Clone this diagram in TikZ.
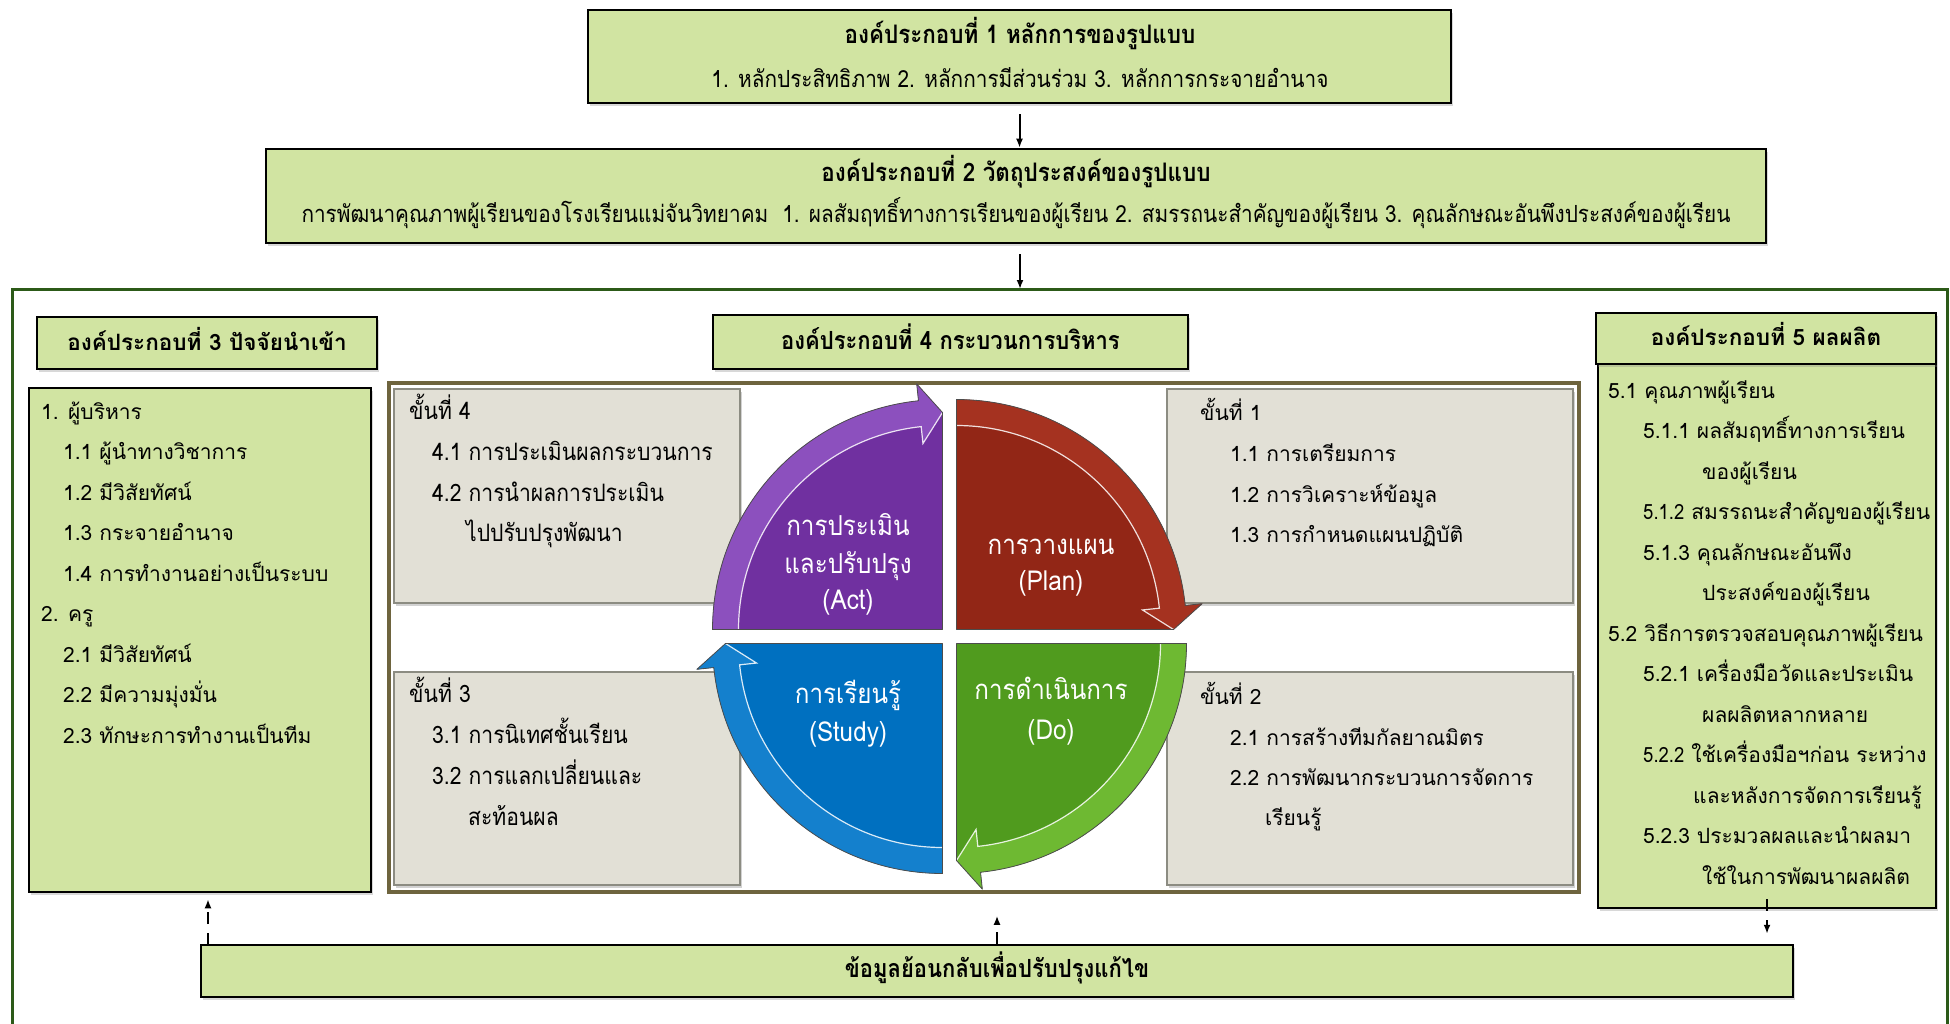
\documentclass[tikz,border=0pt]{standalone}
\usepackage{fontspec}
\newfontfamily\thai[Script=Thai]{Loma}
\newfontfamily\thaic[Script=Thai,FakeStretch=0.88]{Loma}
\usetikzlibrary{shadows,arrows.meta}
\definecolor{boxgreen}{RGB}{209,228,162}
\definecolor{stepgray}{RGB}{226,224,214}
\definecolor{stepline}{RGB}{140,140,130}
\definecolor{frameolive}{RGB}{110,100,62}
\definecolor{framegreen}{RGB}{44,90,24}
\definecolor{actc}{RGB}{112,48,160}
\definecolor{actb}{RGB}{140,80,190}
\definecolor{planc}{RGB}{146,38,22}
\definecolor{planb}{RGB}{165,50,32}
\definecolor{doc}{RGB}{80,155,30}
\definecolor{dob}{RGB}{110,185,50}
\definecolor{studyc}{RGB}{0,112,192}
\definecolor{studyb}{RGB}{20,128,205}
\newcommand\pdcaquad[5]{%
  \begin{scope}[shift={(#1,#2)}]
    \pgfmathsetmacro\qEnd{#3-90}
    \pgfmathsetmacro\qBase{#3-84}
    \path[fill=#4] (0,0) -- (#3:230) arc[start angle=#3, end angle=\qBase, radius=230]
      -- (\qBase:247) -- (\qEnd:217) -- cycle;
    \path[fill=#5] (#3:204) -- (#3:230) arc[start angle=#3, end angle=\qBase, radius=230]
      -- (\qBase:247) -- (\qEnd:217) -- (\qBase:187) -- (\qBase:204)
      arc[start angle=\qBase, end angle=#3, radius=204] -- cycle;
    \draw[white, opacity=.85, line width=1.2pt] (#3:204) arc[start angle=#3, end angle=\qBase, radius=204]
      -- (\qBase:187) -- (\qEnd:217);
    \draw[gray!60!black, line width=0.8pt, line join=round] (0,0) -- (#3:230) arc[start angle=#3, end angle=\qBase, radius=230]
      -- (\qBase:247) -- (\qEnd:217) -- cycle;
  \end{scope}}
\begin{document}
\begin{tikzpicture}[x=1pt,y=-1pt,
  greenbox/.style={draw=black, line width=2.5pt, fill=boxgreen, inner sep=0pt,
    drop shadow={shadow xshift=2pt,shadow yshift=-3pt,opacity=.3}},
  stepbox/.style={draw=stepline, line width=1.5pt, fill=stepgray, inner sep=0pt,
    drop shadow={shadow xshift=2pt,shadow yshift=-3pt,opacity=.35}},
  ln/.style={inner sep=0pt, text depth=0pt},
  lb/.style={ln, anchor=west, font=\thai\fontsize{21}{24}\selectfont, text height=14pt},
  lc/.style={ln, anchor=west, font=\thaic\fontsize{24}{28}\selectfont, text height=16pt},
  hdb/.style={ln, font=\thai\bfseries\fontsize{22.5}{26}\selectfont, text height=15pt},
  hdc/.style={ln, font=\thaic\bfseries\fontsize{25.5}{30}\selectfont, text height=17pt},
  hdd/.style={ln, font=\thaic\bfseries\fontsize{25}{30}\selectfont, text height=17pt},
  subc/.style={ln, font=\thaic\fontsize{23.6}{28}\selectfont, text height=16pt},
  pdl/.style={ln, text=white, font=\thaic\fontsize{27.5}{32}\selectfont, text height=18pt},
  arr/.style={line width=2pt, -{Latex[length=9pt,width=7pt]}},
  dasharr/.style={line width=2pt, dash pattern=on 12pt off 9pt, -{Latex[length=9pt,width=7pt]}}
]
\useasboundingbox[fill=white] (0,0) rectangle (1950,1024);

% outer frame (open at the bottom)
\draw[framegreen, line width=3pt] (12,1030) -- (12,289) -- (1947,289) -- (1947,1030);
\coordinate (frametop) at (1020,289);

% component 1 and 2
\node[greenbox, minimum width=863pt, minimum height=93pt] (box1) at (1019.5,56.5) {};
\node[hdc] (box1t) at (1020,35) {องค์ประกอบที่ 1 หลักการของรูปแบบ};
\node[subc] (box1s) at (1020,80) {1. หลักประสิทธิภาพ 2. หลักการมีส่วนร่วม 3. หลักการกระจายอำนาจ};

\node[greenbox, minimum width=1500pt, minimum height=94pt] (box2) at (1016,196) {};
\node[hdc] (box2t) at (1016,173) {องค์ประกอบที่ 2 วัตถุประสงค์ของรูปแบบ};
\node[subc] (box2s) at (1016,215) {การพัฒนาคุณภาพผู้เรียนของโรงเรียนแม่จันวิทยาคม~~1. ผลสัมฤทธิ์ทางการเรียนของผู้เรียน 2. สมรรถนะสำคัญของผู้เรียน 3. คุณลักษณะอันพึงประสงค์ของผู้เรียน};

\draw[arr] ([yshift=-10pt]box1.south) -- (box1.south |- box2.north);
\draw[arr] ([yshift=-10pt]box2.south -| frametop) -- (frametop);

% component 3
\node[greenbox, minimum width=340pt, minimum height=52pt] (c3head) at (207,343) {};
\node[hdb] (c3headt) at (207,343) {องค์ประกอบที่ 3 ปัจจัยนำเข้า};
\node[greenbox, minimum width=342pt, minimum height=504pt] (c3body) at (200,640) {};
\foreach \xx/\t [count=\k from 0] in {41/1. ผู้บริหาร, 63/1.1 ผู้นำทางวิชาการ, 63/1.2 มีวิสัยทัศน์,
  63/1.3 กระจายอำนาจ, 63/1.4 การทำงานอย่างเป็นระบบ, 41/2. ครู, 63/2.1 มีวิสัยทัศน์,
  63/2.2 มีความมุ่งมั่น, 63/2.3 ทักษะการทำงานเป็นทีม}
  \node[lb] (c3l\k) at (\xx,412+40.5*\k) {\t};

% component 4
\node[greenbox, minimum width=475pt, minimum height=54pt] (c4head) at (950.5,342) {};
\node[hdd] (c4headt) at (950.5,341) {องค์ประกอบที่ 4 กระบวนการบริหาร};
\node[draw=frameolive, line width=3.5pt, fill=white, minimum width=1190pt, minimum height=509pt, inner sep=0pt] (center) at (984,637.5) {};

\node[stepbox, minimum width=346pt, minimum height=214pt] (step4) at (567,496) {};
\node[stepbox, minimum width=346pt, minimum height=213pt] (step3) at (567,778.5) {};
\node[stepbox, minimum width=406pt, minimum height=214pt] (step1) at (1370,496) {};
\node[stepbox, minimum width=406pt, minimum height=213pt] (step2) at (1370,778.5) {};

\node[lc] (s4a) at (409,411) {ขั้นที่ 4};
\node[lc] (s4b) at (432,452) {4.1 การประเมินผลกระบวนการ};
\node[lc] (s4c) at (432,493) {4.2 การนำผลการประเมิน};
\node[lc] (s4d) at (466,533) {ไปปรับปรุงพัฒนา};

\node[lc] (s3a) at (409,694) {ขั้นที่ 3};
\node[lc] (s3b) at (432,735) {3.1 การนิเทศชั้นเรียน};
\node[lc] (s3c) at (432,776) {3.2 การแลกเปลี่ยนและ};
\node[lc] (s3d) at (468,817) {สะท้อนผล};

\node[lb] (s1a) at (1200,413) {ขั้นที่ 1};
\node[lb] (s1b) at (1230,454) {1.1 การเตรียมการ};
\node[lb] (s1c) at (1230,495) {1.2 การวิเคราะห์ข้อมูล};
\node[lb] (s1d) at (1230,535) {1.3 การกำหนดแผนปฏิบัติ};

\node[lb] (s2a) at (1200,697) {ขั้นที่ 2};
\node[lb] (s2b) at (1230,738) {2.1 การสร้างทีมกัลยาณมิตร};
\node[lb] (s2c) at (1230,778) {2.2 การพัฒนากระบวนการจัดการ};
\node[lb] (s2d) at (1265,818) {เรียนรู้};

% PDCA cycle
\begin{scope}[shift={(949.5,636.5)}, yscale=-1]
  \pdcaquad{7}{7}{90}{planc}{planb}
  \pdcaquad{7}{-7}{0}{doc}{dob}
  \pdcaquad{-7}{-7}{-90}{studyc}{studyb}
  \pdcaquad{-7}{7}{180}{actc}{actb}
\end{scope}
\node[pdl] (act1) at (848,526) {การประเมิน};
\node[pdl] (act2) at (848,564) {และปรับปรุง};
\node[pdl] (act3) at (848,600) {(Act)};
\node[pdl] (plan1) at (1051,545) {การวางแผน};
\node[pdl] (plan2) at (1051,581) {(Plan)};
\node[pdl] (study1) at (848,694) {การเรียนรู้};
\node[pdl] (study2) at (848,732) {(Study)};
\node[pdl] (do1) at (1051,690) {การดำเนินการ};
\node[pdl] (do2) at (1051,730) {(Do)};

% component 5
\node[greenbox, minimum width=338pt, minimum height=544pt] (c5body) at (1767,636) {};
\node[greenbox, minimum width=340pt, minimum height=51pt] (c5head) at (1766,338.5) {};
\node[hdb] (c5headt) at (1766,338) {องค์ประกอบที่ 5 ผลผลิต};
\foreach \xx/\t [count=\k from 0] in {1608/5.1 คุณภาพผู้เรียน, 1643/5.1.1 ผลสัมฤทธิ์ทางการเรียน,
  1702/ของผู้เรียน, 1643/{\thaic 5.1.2} สมรรถนะสำคัญของผู้เรียน, 1643/5.1.3 คุณลักษณะอันพึง,
  1702/ประสงค์ของผู้เรียน, 1608/5.2 วิธีการตรวจสอบคุณภาพผู้เรียน, 1643/5.2.1 เครื่องมือวัดและประเมิน,
  1702/ผลผลิตหลากหลาย, 1643/{\thaic 5.2.2} ใช้เครื่องมือฯก่อน ระหว่าง, 1693/และหลังการจัดการเรียนรู้,
  1643/5.2.3 ประมวลผลและนำผลมา, 1702/ใช้ในการพัฒนาผลผลิต}
  \node[lb] (c5l\k) at (\xx,391+40.5*\k) {\t};

% feedback
\node[greenbox, minimum width=1592pt, minimum height=52pt] (fb) at (997,971) {};
\node[hdd] (fbt) at (997,969) {ข้อมูลย้อนกลับเพื่อปรับปรุงแก้ไข};
\coordinate (fbleft) at (208,945);
\draw[dasharr, shorten >=6pt] (fbleft) -- (fbleft |- c3body.south);
\draw[dasharr, shorten >=22pt] (fb.north) -- (fb.north |- center.south);
\draw[dasharr, shorten >=10pt] ([yshift=10pt]c5body.south) -- (c5body.south |- fb.north);
\end{tikzpicture}
\end{document}
